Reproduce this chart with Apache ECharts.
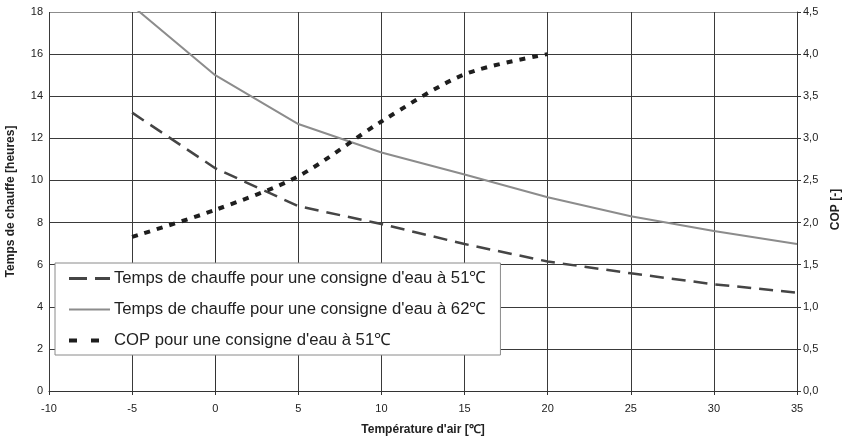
<!DOCTYPE html>
<html>
<head>
<meta charset="utf-8">
<script src="https://cdn.jsdelivr.net/npm/echarts@6/dist/echarts.min.js"></script>
<style>
html,body{margin:0;padding:0;background:#fff;}
#chart{width:843px;height:437px;}
</style>
</head>
<body>
<div id="chart"></div>
<script>
// Data
var airTemps = [-5, 0, 5, 10, 15, 20, 25, 30, 35];
var heat51 = [13.22, 10.58, 8.78, 7.93, 6.98, 6.15, 5.59, 5.07, 4.67];
var heat62 = [18.3, 15.0, 12.68, 11.33, 10.28, 9.2, 8.3, 7.6, 6.98];
var copTemps = [-5, 0, 5, 10, 15, 20];
var cop51 = [1.83, 2.15, 2.55, 3.2, 3.76, 4.0];

var name51 = "Temps de chauffe pour une consigne d'eau à 51℃";
var name62 = "Temps de chauffe pour une consigne d'eau à 62℃";
var nameCop = "COP pour une consigne d'eau à 51℃";

function pairs(xs, ys) { return xs.map(function (x, i) { return [x, ys[i]]; }); }

var font = 'Liberation Sans, Arial, sans-serif';
var gridColors = [];
for (var i = 0; i < 9; i++) gridColors.push('#3a3a3a');
gridColors.push('#8c8c8c');

var chart = echarts.init(document.getElementById('chart'), null, {renderer: 'canvas'});
chart.setOption({
  animation: false,
  backgroundColor: '#fff',
  textStyle: {fontFamily: font},
  grid: {left: 49, right: 46, top: 12, bottom: 46, containLabel: false, outerBoundsMode: 'none'},
  legend: {
    orient: 'vertical',
    left: 55, top: 263,
    padding: [7, 14, 6, 12],
    itemWidth: 41, itemHeight: 14, itemGap: 14,
    backgroundColor: '#fff',
    borderColor: '#8a8a8a', borderWidth: 1,
    itemStyle: {opacity: 0, borderWidth: 0},
    textStyle: {fontFamily: font, fontSize: 16.7, color: '#222', padding: [0, 0, 0, -1]},
    data: [
      {name: name51, lineStyle: {type: [18, 8], width: 3}},
      {name: name62, lineStyle: {width: 2}},
      {name: nameCop, lineStyle: {type: [8, 14], width: 4}}
    ]
  },
  xAxis: {
    type: 'value', min: -10, max: 35, interval: 5,
    name: "Température d'air [℃]", nameLocation: 'middle', nameGap: 33,
    nameTextStyle: {fontFamily: font, fontSize: 12, fontWeight: 'bold', color: '#222'},
    axisLine: {show: true, onZero: false, lineStyle: {color: '#333', width: 1}},
    axisTick: {show: true, length: 4, lineStyle: {color: '#333'}},
    axisLabel: {fontFamily: font, fontSize: 11, color: '#222', margin: 12},
    splitLine: {show: true, lineStyle: {color: '#3a3a3a', width: 1}}
  },
  yAxis: [{
    type: 'value', min: 0, max: 18, interval: 2,
    name: 'Temps de chauffe [heures]', nameLocation: 'middle', nameGap: 32, nameRotate: 90,
    nameTextStyle: {fontFamily: font, fontSize: 12, fontWeight: 'bold', color: '#222'},
    axisLine: {show: true, lineStyle: {color: '#333', width: 1}},
    axisTick: {show: true, length: 4, lineStyle: {color: '#333'}},
    axisLabel: {fontFamily: font, fontSize: 11, color: '#222', margin: 6},
    splitLine: {show: true, lineStyle: {color: gridColors, width: 1}}
  }, {
    type: 'value', min: 0, max: 4.5, interval: 0.5, position: 'right',
    name: 'COP [-]', nameLocation: 'middle', nameGap: 31, nameRotate: 90,
    nameTextStyle: {fontFamily: font, fontSize: 12, fontWeight: 'bold', color: '#222', padding: [0, 16, 0, 0]},
    axisLine: {show: true, lineStyle: {color: '#333', width: 1}},
    axisTick: {show: true, length: 4, lineStyle: {color: '#333'}},
    axisLabel: {fontFamily: font, fontSize: 11, color: '#222', margin: 6,
      formatter: function (v) { return v.toFixed(1).replace('.', ','); }},
    splitLine: {show: false}
  }],
  series: [{
    name: name51, type: 'line', yAxisIndex: 0, symbol: 'none', clip: true,
    data: pairs(airTemps, heat51),
    lineStyle: {color: '#454545', width: 2.5, type: [14, 8]},
    itemStyle: {color: '#454545'}
  }, {
    name: name62, type: 'line', yAxisIndex: 0, symbol: 'none', clip: true,
    data: pairs(airTemps, heat62),
    lineStyle: {color: '#8c8c8c', width: 2},
    itemStyle: {color: '#8c8c8c'}
  }, {
    name: nameCop, type: 'line', yAxisIndex: 1, symbol: 'none', clip: true, smooth: 0.3,
    data: pairs(copTemps, cop51),
    lineStyle: {color: '#1e1e1e', width: 4, type: [6, 7]},
    itemStyle: {color: '#1e1e1e'}
  }]
});
</script>
</body>
</html>
